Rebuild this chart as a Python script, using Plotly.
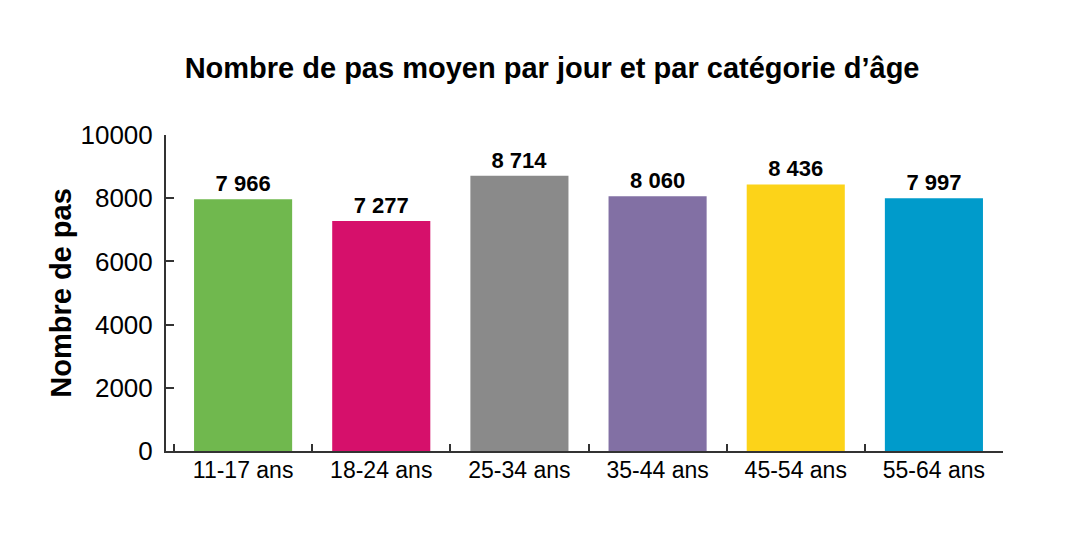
import plotly.graph_objects as go

# ==== Data ====
categories = ["11-17 ans", "18-24 ans", "25-34 ans", "35-44 ans", "45-54 ans", "55-64 ans"]
steps = [7966, 7277, 8714, 8060, 8436, 7997]
bar_colors = ["#70B84E", "#D6106B", "#8A8A8A", "#8270A4", "#FCD319", "#009BCB"]
y_ticks = [0, 2000, 4000, 6000, 8000, 10000]

# labels with a space as thousands separator (french style)
labels = [f"{v:,}".replace(",", " ") for v in steps]

fig = go.Figure()

fig.add_trace(go.Bar(
    x=categories,
    y=steps,
    marker=dict(color=bar_colors, line=dict(width=0)),
    width=0.71,
    text=labels,
    textposition="outside",
    textfont=dict(family="Liberation Sans", size=22, color="black", weight="bold"),
    cliponaxis=False,
))

# page body adds 8px margin, so the figure is a bit smaller than the window
fig.update_layout(
    title=dict(
        text="<b>Nombre de pas moyen par jour et par catégorie d’âge</b>",
        font=dict(family="Liberation Sans", size=29, color="black"),
        x=0.508, xanchor="center",
        y=1 - 60 / 533, yanchor="middle", yref="container",
    ),
    xaxis=dict(
        showline=True, linecolor="#333333", linewidth=2,
        ticks="inside", tickson="boundaries", ticklen=7, tickcolor="#333333", tickwidth=2,
        tickfont=dict(family="Liberation Sans", size=23, color="black"),
        ticklabelstandoff=-3,
        range=[-0.558, 5.5],
        showgrid=False,
    ),
    yaxis=dict(
        title=dict(text="<b>Nombre de pas</b>", font=dict(family="Liberation Sans", size=29, color="black"), standoff=0),
        range=[0, 10000],
        tickvals=y_ticks,
        ticktext=[str(t) for t in y_ticks],
        showline=True, linecolor="#333333", linewidth=2,
        ticks="inside", ticklen=8, tickcolor="#333333", tickwidth=2,
        tickfont=dict(family="Liberation Sans", size=26, color="black"),
        ticklabelstandoff=6,
        showgrid=False, zeroline=False,
    ),
    bargap=0.29,
    showlegend=False,
    plot_bgcolor="white",
    paper_bgcolor="white",
    width=1071,
    height=533,
    margin=dict(l=158, r=76, t=127, b=90),
)

fig.write_html("out.html")
